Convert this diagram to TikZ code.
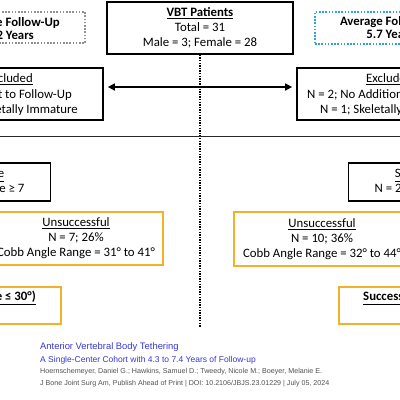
\documentclass[tikz,border=0pt]{standalone}
\usepackage{fontspec}
\setmainfont{Carlito}
\newfontfamily\citefont{Liberation Sans}
\usetikzlibrary{arrows.meta}
\definecolor{gold}{RGB}{242,178,40}
\definecolor{dotblue}{RGB}{45,160,215}
\definecolor{dotgray}{RGB}{145,145,145}
\definecolor{citeblue}{RGB}{55,55,215}
\definecolor{citegray}{RGB}{80,80,80}
\newcommand\mainsize{\fontsize{12.8}{15}\selectfont}
\begin{document}
\begin{tikzpicture}[x=1pt,y=-1pt,
  font=\mainsize,
  blackbox/.style={draw=black,line width=1.7pt,inner sep=0pt,align=center},
  goldbox/.style={draw=gold,line width=2pt,inner sep=0pt,align=center},
  dotbox/.style={line width=1.8pt,dash pattern=on 1.6pt off 1.6pt,inner sep=0pt,align=center,font=\fontsize{12.8}{13}\selectfont\bfseries},
  frag/.style={inner sep=0pt,text height=9pt,text depth=2.5pt},
  cite/.style={inner sep=0pt,anchor=base west},
  conn/.style={line width=1.5pt},
  centerdot/.style={line width=2pt,dash pattern=on 1.3pt off 1.3pt}]
\useasboundingbox (0,0) rectangle (400,400);
\clip (0,0) rectangle (400,400);

% top row
\node[blackbox,minimum width=186pt,minimum height=52pt] (vbt) at (200,28)
  {\underline{\textbf{VBT Patients}}\\Total = 31\\Male = 3; Female = 28};
\node[dotbox,draw=dotgray,minimum width=150pt,minimum height=31pt] (avgl) at (10,27.5) {};
\node[frag,anchor=east] (avgl1) at (60,23) {\textbf{Average Follow-Up}};
\node[frag,anchor=east] (avgl2) at (34,36) {\textbf{2 Years}};
\node[dotbox,draw=dotblue,minimum width=150pt,minimum height=32pt] (avgr) at (390,28)
  {Average Follow-Up\\5.7 Years};

% excluded
\node[blackbox,minimum width=184pt,minimum height=52pt] (exl) at (11,94) {};
\node[frag,anchor=east] (exl1) at (33,79) {\underline{Excluded}};
\node[frag,anchor=east] (exl2) at (72,95) {Lost to Follow-Up};
\node[frag,anchor=east] (exl3) at (78,110) {Skeletally Immature};
\node[blackbox,minimum width=184pt,minimum height=52pt] (exr) at (389,94) {};
\node[frag,anchor=west] (exr1) at (366,79) {\underline{Excluded}};
\node[frag,anchor=west] (exr2) at (307,95) {N = 2; No Additional};
\node[frag,anchor=west] (exr3) at (320,110) {N = 1; Skeletally Immature};

% skeletally mature
\node[blackbox,minimum width=183pt,minimum height=38pt] (skl) at (-41,182)
  {\underline{Skeletally Mature}\\N = 27; Sanders Stage ≥ 7};
\node[blackbox,minimum width=183pt,minimum height=38pt] (skr) at (440,182)
  {\underline{Skeletally Mature}\\N = 28; Sanders Stage ≥ 7};

% unsuccessful
\node[goldbox,minimum width=174pt,minimum height=53pt] (unl) at (76,238.5)
  {\underline{Unsuccessful}\\N = 7; 26\%\\Cobb Angle Range = 31° to 41°};
\node[goldbox,minimum width=176pt,minimum height=54pt] (unr) at (322,239)
  {\underline{Unsuccessful}\\N = 10; 36\%\\Cobb Angle Range = 32° to 44°};

% successful
\node[goldbox,minimum width=200pt,minimum height=37pt] (sul) at (-39,305.5) {};
\node[frag,anchor=east] (sul1) at (36,297) {\underline{\textbf{Successful (Cobb Angle ≤ 30°)}}};
\node[goldbox,minimum width=200pt,minimum height=37pt] (sur) at (439,305.5) {};
\node[frag,anchor=west] (sur1) at (363,297) {\underline{\textbf{Successful (Cobb Angle ≤ 30°)}}};

% connectors
\coordinate (split) at (200,87);
\coordinate (bot) at (200,327);
\coordinate (hl) at (0,136);
\coordinate (hr) at (400,136);
\draw[centerdot] (vbt.south) -- (bot);
\draw[conn,-{Triangle[length=7pt,width=7pt]},shorten >=4pt] (split) -- (exl.east |- split);
\draw[conn,-{Triangle[length=7pt,width=7pt]},shorten >=4pt] (split) -- (exr.west |- split);
\draw[line width=1pt,black!85] (hl) -- (hr);

% citation
\node[cite,font=\citefont\fontsize{9.4}{11}\selectfont,text=citeblue] (c1) at (40,349.5) {Anterior Vertebral Body Tethering};
\node[cite,font=\citefont\fontsize{8.5}{10}\selectfont,text=citeblue] (c2) at (40,362) {A Single-Center Cohort with 4.3 to 7.4 Years of Follow-up};
\node[cite,font=\citefont\fontsize{7.15}{9}\selectfont,text=citegray] (c3) at (40,373.5) {Hoernschemeyer, Daniel G.; Hawkins, Samuel D.; Tweedy, Nicole M.; Boeyer, Melanie E.};
\node[cite,font=\citefont\fontsize{7.1}{9}\selectfont,text=citegray] (c4) at (40,385.5) {J Bone Joint Surg Am, Publish Ahead of Print | DOI: 10.2106/JBJS.23.01229 | July 05, 2024};
\end{tikzpicture}
\end{document}
